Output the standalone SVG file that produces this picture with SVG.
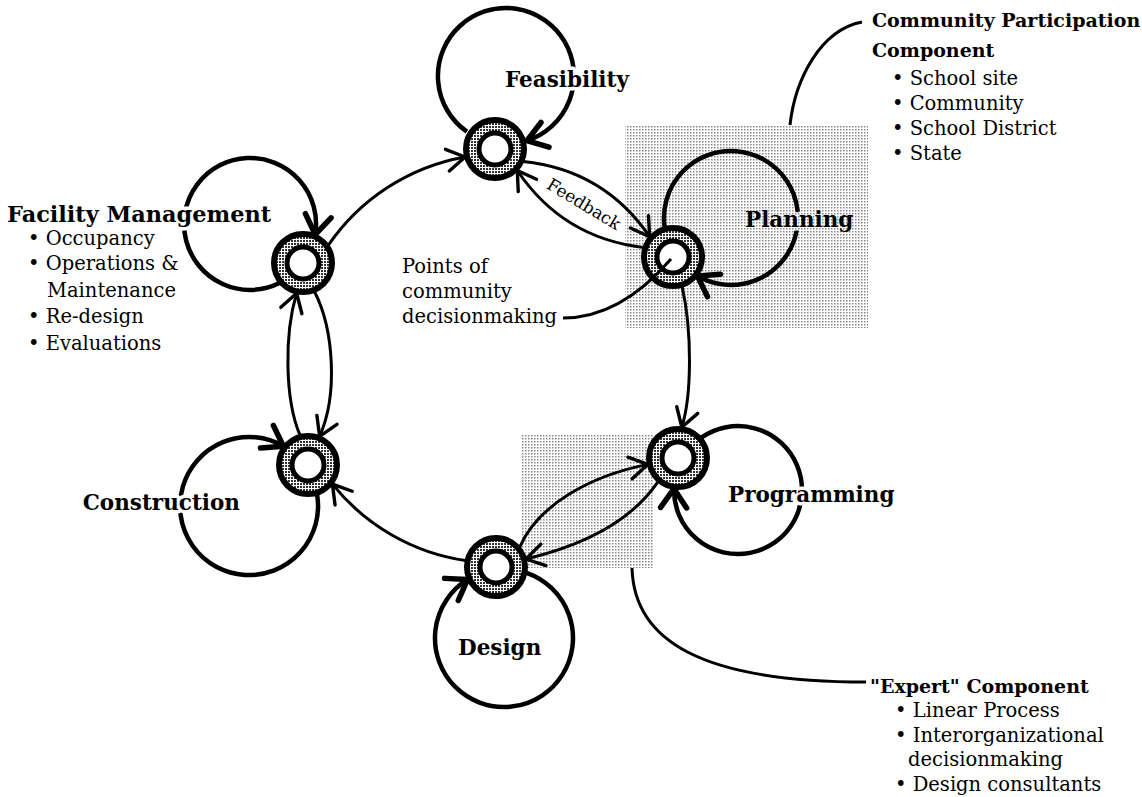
<svg xmlns="http://www.w3.org/2000/svg" width="1142" height="797" viewBox="0 0 1142 797">
<style>
text{font-family:"DejaVu Serif","Liberation Serif",serif;fill:#000}
.lbl{font-weight:bold;font-size:21.5px}
.fm{font-weight:bold;font-size:22.4px}
.hd{font-weight:bold;font-size:19px}
.item{font-size:19.5px}
.fb{font-size:17px}
.halo{stroke:#fff;stroke-width:7;stroke-linejoin:round;paint-order:stroke}
.halo-g{stroke:url(#dots);stroke-width:7;stroke-linejoin:round;paint-order:stroke}
.ring{fill:url(#chk);stroke:#000;stroke-width:6}
.hole{fill:#fff;stroke:#000;stroke-width:5}
.loop{fill:none;stroke:#000;stroke-width:4.5;marker-end:url(#lh)}
.edge{fill:none;stroke:#000;stroke-width:3;marker-end:url(#ah)}
.call{fill:none;stroke:#000;stroke-width:3}
</style>
<defs>
<pattern id="dots" width="3" height="3" patternUnits="userSpaceOnUse"><rect width="3" height="3" fill="#fff"/><rect width="1.5" height="1.5" fill="#888"/></pattern>
<pattern id="chk" width="3" height="3" patternUnits="userSpaceOnUse"><rect width="3" height="3" fill="#fff"/><rect width="2" height="2" fill="#333"/></pattern>
<marker id="ah" viewBox="-25 -20 30 40" markerWidth="30" markerHeight="40" refX="0" refY="0" orient="auto" markerUnits="userSpaceOnUse"><path d="M-18,-11 L0,0 L-18,11" fill="none" stroke="#000" stroke-width="3.4" stroke-linejoin="round" stroke-linecap="round"/></marker>
<marker id="lh" viewBox="-25 -20 30 40" markerWidth="30" markerHeight="40" refX="0" refY="0" orient="auto" markerUnits="userSpaceOnUse"><path d="M-19,-13 L0,0 L-19,13" fill="none" stroke="#000" stroke-width="5.5" stroke-linejoin="round" stroke-linecap="round"/></marker>
</defs>
<rect width="1142" height="797" fill="#fff"/>
<g id="shading">
<rect x="625" y="125" width="243" height="203" fill="url(#dots)"/>
<rect x="522" y="435" width="131" height="133" fill="url(#dots)"/>
</g>
<g id="connectors">
<path class="loop" d="M466.9,131.7 A68,68 0 1,1 526.9,140.7"/>
<path class="loop" d="M664.6,227.2 A67,67 0 1,1 697.5,276"/>
<path class="loop" d="M701.3,437.6 A64,64 0 1,1 674,488.7"/>
<path class="loop" d="M526.5,572.8 A69,69 0 1,1 467.6,579.4"/>
<path class="loop" d="M317.1,494.6 A69,69 0 1,1 283.4,446.2"/>
<path class="loop" d="M279.4,283.1 A66,66 0 1,1 315.2,234.5"/>
<path class="edge" d="M328.4,245.2 A210,210 0 0,1 465.1,157"/>
<path class="edge" d="M523.3,161.6 Q603.9,170 649.6,236.7"/>
<path class="edge" d="M643.5,247.4 Q562.9,238.1 517.3,170.5"/>
<path class="edge" d="M682.1,286.6 C692,330 692,395 681.8,427.2"/>
<path class="edge" d="M519.7,547.1 C538,505 590,476 647.7,464.4"/>
<path class="edge" d="M658.1,481.7 C632,520 585,545 525.9,559"/>
<path class="edge" d="M465.7,560.6 A210,210 0 0,1 332.4,484.1"/>
<path class="edge" d="M300,435.1 C285,400 284,335 296.6,293.3"/>
<path class="edge" d="M314.6,291.7 C334,330 338,395 319.6,436.3"/>
<text class="fb" transform="translate(584,204) rotate(31)" text-anchor="middle" y="6">Feedback</text>
</g>
<g id="n-feasibility">
<text class="lbl halo" x="505" y="87">Feasibility</text>
<circle class="ring" cx="495" cy="149" r="29"/><circle class="hole" cx="495" cy="149" r="16"/>
</g>
<g id="n-planning">
<text class="lbl halo-g" x="745" y="227">Planning</text>
<circle class="ring" cx="673" cy="257" r="29"/><circle class="hole" cx="673" cy="257" r="16"/>
</g>
<g id="n-programming">
<text class="lbl halo" x="728" y="502">Programming</text>
<circle class="ring" cx="678" cy="458" r="29"/><circle class="hole" cx="678" cy="458" r="16"/>
</g>
<g id="n-design">
<text class="lbl halo" x="458" y="655">Design</text>
<circle class="ring" cx="496" cy="567" r="29"/><circle class="hole" cx="496" cy="567" r="16"/>
</g>
<g id="n-construction">
<text class="lbl halo" x="240" y="510" text-anchor="end">Construction</text>
<circle class="ring" cx="308" cy="465" r="29"/><circle class="hole" cx="308" cy="465" r="16"/>
</g>
<g id="n-facility">
<text class="fm halo" x="7" y="222">Facility Management</text>
<text class="item" x="28" y="245">• Occupancy</text>
<text class="item" x="28" y="270">• Operations &amp;</text>
<text class="item" x="47" y="297">Maintenance</text>
<text class="item" x="28" y="323">• Re-design</text>
<text class="item" x="28" y="350">• Evaluations</text>
<circle class="ring" cx="303" cy="263" r="29"/><circle class="hole" cx="303" cy="263" r="16"/>
</g>
<g id="annotations">
<text class="item" x="402" y="273">Points of</text>
<text class="item" x="402" y="298">community</text>
<text class="item" x="402" y="323">decisionmaking</text>
<path class="call" d="M563,318 C605,318 640,295 671,259"/>
<path class="call" d="M790,125 C795,80 820,30 862,22"/>
<text class="hd" x="872" y="27">Community Participation</text>
<text class="hd" x="872" y="57">Component</text>
<text class="item" x="892" y="85">• School site</text>
<text class="item" x="892" y="110">• Community</text>
<text class="item" x="892" y="135">• School District</text>
<text class="item" x="892" y="160">• State</text>
<path class="call" d="M632,568 C634,640 700,682 866,682"/>
<text class="hd" x="870" y="693">"Expert" Component</text>
<text class="item" x="895" y="717">• Linear Process</text>
<text class="item" x="895" y="742">• Interorganizational</text>
<text class="item" x="908" y="766">decisionmaking</text>
<text class="item" x="895" y="791">• Design consultants</text>
</g>
</svg>
